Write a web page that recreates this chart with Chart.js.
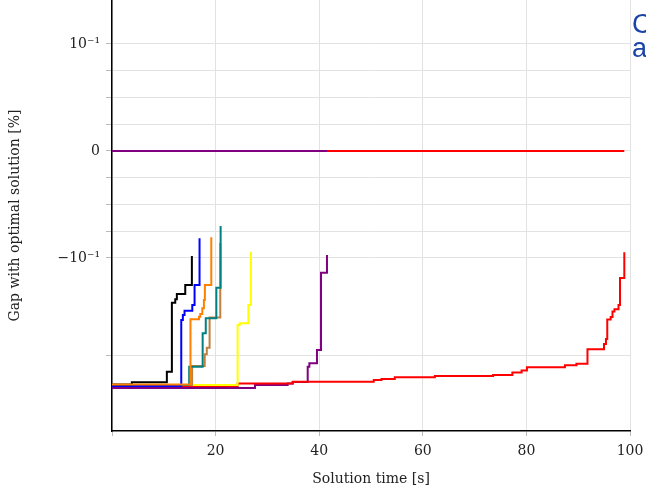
<!DOCTYPE html>
<html>
<head>
<meta charset="utf-8">
<script src="https://cdn.jsdelivr.net/npm/chart.js@4"></script>
<style>
  html, body { margin: 0; padding: 0; background: #fff; }
  #wrap { width: 646px; height: 488px; }
</style>
</head>
<body>
<div id="wrap"><canvas id="gap-chart" width="646" height="488"></canvas></div>
<script>
// y values are in plotted axis units: 1 = 10^-1, 0 = 0, -1 = -10^-1 (symlog axis)
var yTickValues = [1, 0.75, 0.5, 0.25, 0, -0.25, -0.5, -0.75, -1, -1.916];
var yTickLabels = ["10⁻¹", "", "", "", "0", "", "", "", "−10⁻¹", ""];
var xTickValues = [0, 20, 40, 60, 80, 100];

var blackTime = [0, 3.83, 10.59, 11.56, 12.21, 12.52, 14.14, 15.42];
var blackGap = [-2.182, -2.162, -2.063, -1.418, -1.386, -1.336, -1.252, -0.981];

var blueTime = [0, 13.37, 13.68, 14.0, 15.5, 15.94, 16.9];
var blueGap = [-2.196, -1.579, -1.533, -1.493, -1.439, -1.252, -0.816];

var orangeTime = [0, 15.15, 16.8, 17.04, 17.43, 17.74, 17.93, 19.17];
var orangeGap = [-2.182, -1.573, -1.549, -1.523, -1.470, -1.393, -1.252, -0.807];

var brownTime = [0, 15.46, 17.9, 18.3, 18.84, 20.9];
var brownGap = [-2.187, -2.01, -1.9, -1.84, -1.557, -0.86];

var tealTime = [0, 14.9, 17.5, 18.1, 20.14, 20.97];
var tealGap = [-2.187, -2.016, -1.704, -1.564, -1.278, -0.701];

var yellowTime = [0, 24.25, 24.64, 26.32, 26.82];
var yellowGap = [-2.187, -1.626, -1.610, -1.439, -0.941];

var purpleTime = [0, 27.6, 33.9, 34.9, 37.78, 38.1, 39.57, 40.35, 41.5];
var purpleGap = [-2.215, -2.187, -2.173, -2.159, -2.016, -1.984, -1.860, -1.137, -0.972];

var redTime = [0, 24.25, 34.88, 50.53, 52.02, 54.59, 62.32, 73.58, 77.29, 79.07, 80.1, 87.44, 89.66, 91.79, 94.98, 95.36, 95.61, 96.27, 96.62, 97.0, 97.78, 98.07, 98.9];
var redGap = [-2.196, -2.173, -2.156, -2.140, -2.131, -2.115, -2.103, -2.093, -2.070, -2.051, -2.021, -2.003, -1.988, -1.853, -1.804, -1.757, -1.575, -1.551, -1.500, -1.479, -1.439, -1.187, -0.947];

// time at which each run stops (upper line at zero gap)
var zeroEnd = { black: 15.42, blue: 16.9, orange: 19.17, brown: 20.9, teal: 20.97, yellow: 26.82, red: 98.9, purple: 41.5 };

var colors = {
    black: "#000000",
    blue: "#0000ff",
    orange: "#ff8000",
    brown: "#bf8040",
    teal: "#008080",
    yellow: "#ffff00",
    purple: "#800080",
    red: "#ff0000",
};

function pts(xs, ys) {
    return xs.map(function (x, i) { return { x: x, y: ys[i] }; });
}

function stepSet(name, xs, ys, order) {
    return {
        label: name,
        data: pts(xs, ys),
        borderColor: colors[name],
        borderWidth: 2,
        stepped: "before",
        pointRadius: 0,
        fill: false,
        order: order,
    };
}

function zeroSet(name, order) {
    return {
        label: name + " bound",
        data: [{ x: 0, y: 0 }, { x: zeroEnd[name], y: 0 }],
        borderColor: colors[name],
        borderWidth: 2,
        pointRadius: 0,
        fill: false,
        order: order,
    };
}

var datasets = [
    zeroSet("black", 20), zeroSet("blue", 19), zeroSet("orange", 18), zeroSet("brown", 17),
    zeroSet("teal", 16), zeroSet("yellow", 15), zeroSet("red", 14), zeroSet("purple", 13),
    stepSet("red", redTime, redGap, 9),
    stepSet("purple", purpleTime, purpleGap, 10),
    stepSet("yellow", yellowTime, yellowGap, 8),
    stepSet("brown", brownTime, brownGap, 7),
    stepSet("teal", tealTime, tealGap, 6),
    stepSet("blue", blueTime, blueGap, 5),
    stepSet("black", blackTime, blackGap, 4),
    stepSet("orange", orangeTime, orangeGap, 3),
];

var serif = "'DejaVu Serif', 'Liberation Serif', serif";

var cutText = {
    id: "cutText",
    afterDraw: function (chart) {
        var ctx = chart.ctx;
        ctx.save();
        ctx.fillStyle = "#1c44a8";
        ctx.font = "27px 'Liberation Sans', Arial, sans-serif";
        ctx.textBaseline = "alphabetic";
        ctx.fillText("C", 632, 33);
        ctx.fillText("a", 632, 57);
        ctx.restore();
    },
};

var gapChart = new Chart(document.getElementById("gap-chart"), {
    type: "line",
    data: { datasets: datasets },
    options: {
        responsive: false,
        animation: false,
        layout: { padding: { left: 0, right: 16, top: 0, bottom: 0 } },
        plugins: { legend: { display: false }, tooltip: { enabled: false } },
        scales: {
            x: {
                type: "linear",
                min: 0,
                max: 100,
                afterBuildTicks: function (scale) {
                    scale.ticks = xTickValues.map(function (v) { return { value: v }; });
                },
                afterFit: function (scale) {
                    scale.height = 57;
                    scale.paddingLeft = 0;
                    scale.paddingRight = 0;
                },
                grid: { color: "#e2e2e2", tickColor: "#bbbbbb", tickLength: 5 },
                border: { color: "#000000", width: 1.5 },
                ticks: {
                    maxRotation: 0,
                    padding: 7,
                    color: "#222222",
                    font: { size: 14, family: serif },
                    callback: function (v) { return v === 0 ? "" : String(v); },
                },
                title: {
                    display: true,
                    text: "Solution time [s]",
                    color: "#222222",
                    padding: { top: 4, bottom: 0 },
                    font: { size: 14, family: serif },
                },
            },
            y: {
                type: "linear",
                min: -2.617,
                max: 1.411,
                afterBuildTicks: function (scale) {
                    scale.ticks = yTickValues.map(function (v) { return { value: v }; });
                },
                afterFit: function (scale) {
                    scale.width = 112;
                    scale.paddingTop = 0;
                    scale.paddingBottom = 0;
                },
                grid: { color: "#e2e2e2", tickColor: "#bbbbbb", tickLength: 6 },
                border: { color: "#000000", width: 1.5 },
                ticks: {
                    padding: 6,
                    color: "#222222",
                    font: { size: 14, family: serif },
                    callback: function (v) {
                        var i = yTickValues.indexOf(v);
                        return i >= 0 ? yTickLabels[i] : "";
                    },
                },
                title: {
                    display: true,
                    text: "Gap with optimal solution [%]",
                    color: "#222222",
                    padding: { top: 7, bottom: 0 },
                    font: { size: 14, family: serif },
                },
            },
        },
    },
    plugins: [cutText],
});
</script>
</body>
</html>
